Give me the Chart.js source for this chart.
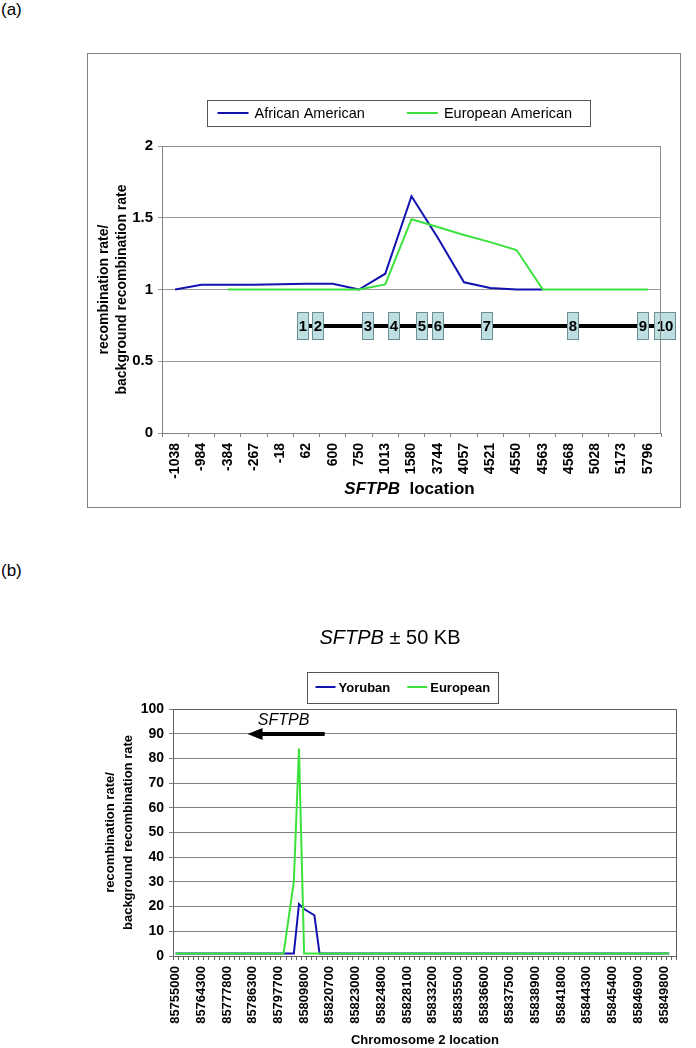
<!DOCTYPE html>
<html>
<head>
<meta charset="utf-8">
<script src="https://cdn.jsdelivr.net/npm/chart.js@4.4.1/dist/chart.umd.min.js"></script>
<style>
  html, body { margin: 0; padding: 0; background: #fff; }
  body { width: 696px; height: 1048px; position: relative; overflow: hidden; font-family: "Liberation Sans", Arial, sans-serif; }
  .panelLabel { position: absolute; left: 1px; font-size: 17px; line-height: 20px; color: #000; }
  #panelBox { position: absolute; left: 87px; top: 53px; width: 594px; height: 455px; border: 1px solid #808080; box-sizing: border-box; }
  .wrap { position: absolute; left: 0; width: 696px; }
</style>
</head>
<body>
<div class="panelLabel" style="top:0px">(a)</div>
<div id="panelBox"></div>
<div class="wrap" style="top:0px;height:560px"><canvas id="chartA" width="696" height="560"></canvas></div>
<div class="panelLabel" style="top:561px">(b)</div>
<div class="wrap" style="top:560px;height:488px"><canvas id="chartB" width="696" height="488"></canvas></div>

<script>
// ---- panel (a) data ----
const sftpbLocations = ['-1038', '-984', '-384', '-267', '-18', '62', '600', '750', '1013', '1580',
    '3744', '4057', '4521', '4550', '4563', '4568', '5028', '5173', '5796'];
const africanAmerican = [1.0, 1.033, 1.033, 1.033, 1.036, 1.04, 1.04, 1.0, 1.11, 1.65,
    1.36, 1.05, 1.01, 1.0, 1.0, null, null, null, null];
const europeanAmerican = [null, null, 1.0, 1.0, 1.0, 1.0, 1.0, 1.0, 1.035, 1.49,
    1.435, 1.38, 1.33, 1.275, 1.0, 1.0, 1.0, 1.0, 1.0];

// gene diagram: exon extents in category units of the axis above
const exonNames = ['1', '2', '3', '4', '5', '6', '7', '8', '9', '10'];
const exonStart = [4.64, 5.21, 7.12, 8.11, 9.17, 9.78, 11.65, 14.92, 17.59, 18.24];
const exonEnd = [5.06, 5.63, 7.54, 8.53, 9.59, 10.20, 12.07, 15.34, 18.01, 19.04];
const exonLevel = 0.745;

// ---- panel (b) data ----
const chromLabels = ['85755000', '85764300', '85777800', '85786300', '85797700', '85809800', '85820700',
    '85823000', '85824800', '85828100', '85833200', '85835500', '85836600', '85837500', '85838900',
    '85841800', '85844300', '85845400', '85846900', '85849800'];
const chromCategoryCount = 98;
const chromLabelEvery = 5;
const yorubanIndex = [0, 23, 24, 25, 27, 28, 96];
const yorubanRate = [1, 1, 21, 19, 16.5, 1, 1];
const europeanIndex = [0, 21, 23, 24, 25, 96];
const europeanRate = [1, 1, 30, 84, 1, 1];
const geneArrow = { from: 29, to: 14, level: 90, labelAt: 21, labelLevel: 95.3 };

const FAMILY = '"Liberation Sans", Arial, sans-serif';
const BLUE = '#1212b0';
const GREEN = '#3ce23c';
Chart.defaults.font.family = FAMILY;
Chart.defaults.color = '#000';

function drawRuns(ctx, runs, cx, cy) {
    let total = 0;
    runs.forEach(r => { ctx.font = r.font; r.w = ctx.measureText(r.text).width; total += r.w; });
    let x = cx - total / 2;
    ctx.textBaseline = 'middle';
    ctx.textAlign = 'left';
    ctx.fillStyle = '#000';
    runs.forEach(r => {
        ctx.font = r.font;
        ctx.fillText(r.text, x, cy);
        x += r.w;
    });
}

function drawLegendBox(chart, o) {
    const ctx = chart.ctx;
    const items = chart.data.datasets.map(ds => ({ label: ds.label, color: ds.borderColor }));
    ctx.save();
    ctx.font = o.font;
    const widths = items.map(it => ctx.measureText(it.label).width);
    let total = o.padL + o.padR + o.itemGap * (items.length - 1);
    items.forEach((it, i) => { total += o.lineLen + o.gap + widths[i]; });
    const left = Math.round(o.cx - total / 2) + 0.5;
    const top = Math.round(o.cy - o.height / 2) + 0.5;
    ctx.strokeStyle = '#555';
    ctx.lineWidth = 1;
    ctx.strokeRect(left, top, Math.round(total), o.height);
    let x = left + o.padL;
    items.forEach((it, i) => {
        ctx.strokeStyle = it.color;
        ctx.lineWidth = 2;
        ctx.beginPath();
        ctx.moveTo(x, o.cy);
        ctx.lineTo(x + o.lineLen, o.cy);
        ctx.stroke();
        x += o.lineLen + o.gap;
        ctx.fillStyle = '#000';
        ctx.textBaseline = 'middle';
        ctx.textAlign = 'left';
        ctx.fillText(it.label, x, o.cy + 1);
        x += widths[i] + o.itemGap;
    });
    ctx.restore();
}

// right + top border of the plot area
const plotBorder = {
    id: 'plotBorder',
    afterDraw(chart, args, opts) {
        const { ctx, chartArea: a } = chart;
        ctx.save();
        ctx.strokeStyle = opts.color || '#808080';
        ctx.lineWidth = 1;
        ctx.beginPath();
        ctx.moveTo(Math.round(a.left) + 0.5, Math.round(a.top) + 0.5);
        ctx.lineTo(Math.round(a.right) - 0.5, Math.round(a.top) + 0.5);
        ctx.lineTo(Math.round(a.right) - 0.5, Math.round(a.bottom));
        ctx.stroke();
        ctx.restore();
    }
};

const exonPlugin = {
    id: 'exons',
    afterDatasetsDraw(chart) {
        const { ctx, scales: { x, y } } = chart;
        const yc = Math.round(y.getPixelForValue(exonLevel));
        ctx.save();
        ctx.strokeStyle = '#000';
        ctx.lineWidth = 4;
        ctx.beginPath();
        ctx.moveTo(x.getPixelForValue(exonStart[0]), yc);
        ctx.lineTo(x.getPixelForValue(exonEnd[exonEnd.length - 1]), yc);
        ctx.stroke();
        exonNames.forEach((name, i) => {
            const x0 = Math.round(x.getPixelForValue(exonStart[i])) + 0.5;
            const x1 = Math.round(x.getPixelForValue(exonEnd[i])) + 0.5;
            ctx.fillStyle = '#bddfe2';
            ctx.fillRect(x0, yc - 13.5, x1 - x0, 27);
            ctx.strokeStyle = '#6b8f92';
            ctx.lineWidth = 1;
            ctx.strokeRect(x0, yc - 13.5, x1 - x0, 27);
            ctx.fillStyle = '#000';
            ctx.font = 'bold 15px ' + FAMILY;
            ctx.textAlign = 'center';
            ctx.textBaseline = 'middle';
            ctx.fillText(name, (x0 + x1) / 2, yc + 1);
        });
        ctx.restore();
    }
};

const headerA = {
    id: 'headerA',
    afterDraw(chart) {
        drawLegendBox(chart, { font: '14.5px ' + FAMILY, cx: 398.5, cy: 113, height: 26,
            lineLen: 31, gap: 6, itemGap: 42, padL: 10, padR: 18 });
        const a = chart.chartArea;
        drawRuns(chart.ctx, [
            { text: 'SFTPB', font: 'italic bold 17px ' + FAMILY },
            { text: '  location', font: 'bold 17px ' + FAMILY }
        ], (a.left + a.right) / 2 - 2, 489);
    }
};

const headerB = {
    id: 'headerB',
    afterDraw(chart) {
        drawLegendBox(chart, { font: 'bold 13px ' + FAMILY, cx: 402.5, cy: 127, height: 31,
            lineLen: 20, gap: 3, itemGap: 17, padL: 8, padR: 8 });
        drawRuns(chart.ctx, [
            { text: 'SFTPB', font: 'italic 20px ' + FAMILY },
            { text: ' \u00b1 50 KB', font: '20px ' + FAMILY }
        ], 390, 78);
    }
};

const arrowPlugin = {
    id: 'geneArrow',
    afterDatasetsDraw(chart) {
        const { ctx, scales: { x, y } } = chart;
        const xf = x.getPixelForValue(geneArrow.from);
        const xt = x.getPixelForValue(geneArrow.to);
        const ya = Math.round(y.getPixelForValue(geneArrow.level));
        ctx.save();
        ctx.strokeStyle = '#000';
        ctx.fillStyle = '#000';
        ctx.lineWidth = 4;
        ctx.beginPath();
        ctx.moveTo(xf, ya);
        ctx.lineTo(xt + 12, ya);
        ctx.stroke();
        ctx.beginPath();
        ctx.moveTo(xt, ya);
        ctx.lineTo(xt + 15, ya - 6);
        ctx.lineTo(xt + 15, ya + 6);
        ctx.closePath();
        ctx.fill();
        ctx.font = 'italic 16px ' + FAMILY;
        ctx.textAlign = 'center';
        ctx.textBaseline = 'middle';
        ctx.fillText('SFTPB', x.getPixelForValue(geneArrow.labelAt), y.getPixelForValue(geneArrow.labelLevel));
        ctx.restore();
    }
};

new Chart(document.getElementById('chartA'), {
    type: 'line',
    data: {
        labels: sftpbLocations,
        datasets: [
            { label: 'African American', data: africanAmerican, borderColor: BLUE, borderWidth: 2,
              pointRadius: 0, tension: 0, fill: false, order: 1 },
            { label: 'European American', data: europeanAmerican, borderColor: GREEN, borderWidth: 2,
              pointRadius: 0, tension: 0, fill: false, order: 0 }
        ]
    },
    options: {
        responsive: false,
        animation: false,
        layout: { padding: { left: 88, top: 146, right: 35, bottom: 0 } },
        plugins: { legend: { display: false }, tooltip: { enabled: false }, plotBorder: { color: '#8c8c8c' } },
        scales: {
            x: {
                type: 'category',
                offset: true,
                afterFit: s => { s.height = 127; },
                grid: { display: true, drawOnChartArea: false, offset: true, tickLength: 4, color: '#808080' },
                border: { color: '#808080' },
                ticks: { autoSkip: false, minRotation: 90, maxRotation: 90, padding: 6,
                         font: { size: 14, weight: 'bold' } }
            },
            y: {
                min: 0, max: 2,
                afterFit: s => { s.width = 74; },
                grid: { color: '#9a9a9a', tickLength: 4 },
                border: { color: '#808080' },
                ticks: { stepSize: 0.5, padding: 5, font: { size: 15, weight: 'bold' },
                         callback: v => String(v) },
                title: { display: true, text: ['recombination rate/', 'background recombination rate'],
                         font: { size: 14, weight: 'bold', lineHeight: 1.3 }, padding: { top: 7 } }
            }
        }
    },
    plugins: [plotBorder, exonPlugin, headerA]
});

new Chart(document.getElementById('chartB'), {
    type: 'line',
    data: {
        datasets: [
            { label: 'Yoruban', data: yorubanIndex.map((v, i) => ({ x: v, y: yorubanRate[i] })),
              borderColor: BLUE, borderWidth: 2, pointRadius: 0, tension: 0, fill: false, order: 1 },
            { label: 'European', data: europeanIndex.map((v, i) => ({ x: v, y: europeanRate[i] })),
              borderColor: GREEN, borderWidth: 2, pointRadius: 0, tension: 0, fill: false, order: 0 }
        ]
    },
    options: {
        responsive: false,
        animation: false,
        layout: { padding: { left: 93, top: 149, right: 13, bottom: 0 } },
        plugins: { legend: { display: false }, tooltip: { enabled: false }, plotBorder: { color: '#606060' } },
        scales: {
            x: {
                type: 'linear',
                min: -0.5,
                max: chromCategoryCount - 0.5,
                afterBuildTicks: s => {
                    s.ticks = Array.from({ length: chromCategoryCount }, (_, i) => ({ value: i }));
                },
                afterFit: s => { s.height = 92; },
                grid: { display: true, drawOnChartArea: false, offset: true, tickLength: 4, color: '#666' },
                border: { color: '#606060' },
                ticks: {
                    autoSkip: false, minRotation: 90, maxRotation: 90, padding: 6,
                    font: { size: 13, weight: 'bold' },
                    callback: v => (v % chromLabelEvery === 0 ? chromLabels[v / chromLabelEvery] : '')
                },
                title: { display: true, text: 'Chromosome 2 location', font: { size: 13, weight: 'bold', lineHeight: 1.2 },
                         padding: 0 }
            },
            y: {
                min: 0, max: 100,
                afterFit: s => { s.width = 80; },
                grid: { color: '#808080', tickLength: 4 },
                border: { color: '#606060' },
                ticks: { stepSize: 10, padding: 5, font: { size: 14, weight: 'bold' } },
                title: { display: true, text: ['recombination rate/', 'background recombination rate'],
                         font: { size: 13, weight: 'bold', lineHeight: 1.4 }, padding: { top: 8 } }
            }
        }
    },
    plugins: [plotBorder, arrowPlugin, headerB]
});
</script>
</body>
</html>
